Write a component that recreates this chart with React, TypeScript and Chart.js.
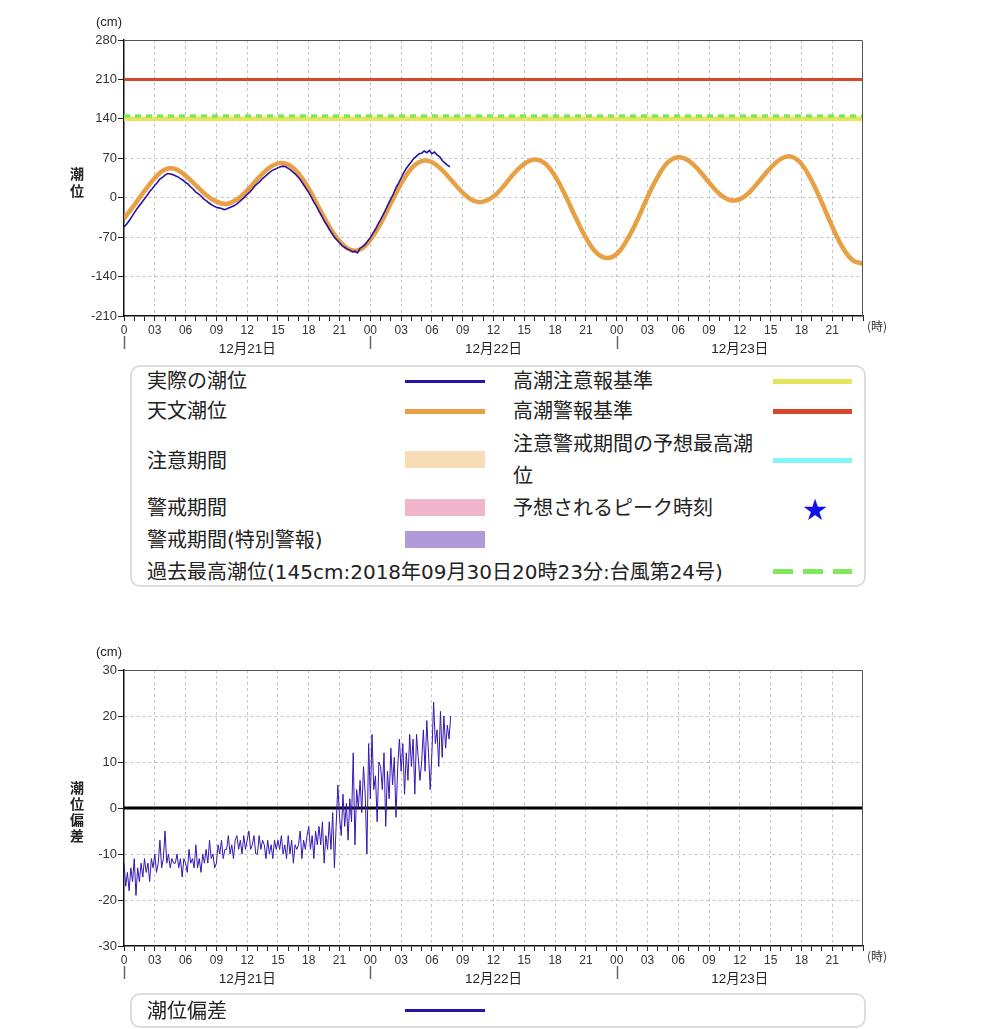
import React, { useEffect, useRef } from 'react';
import { Chart, registerables } from 'chart.js';

Chart.register(...registerables);

// ---------------- data ----------------
const dayLabels = ['12月21日', '12月22日', '12月23日'];
const totalHours = 72;

// astronomical tide, hourly from 12/21 00:00 (cm)
const astroTide = [
  -37, -13, 12, 35, 50, 51, 39, 22, 5, -7,
  -11, -3, 13, 33, 51, 61, 59, 43, 16, -18,
  -51, -77, -92, -92, -75, -46, -10, 25, 52, 65,
  63, 49, 29, 9, -5, -7, 2, 21, 43, 60,
  68, 61, 38, 4, -35, -71, -97, -107, -100, -75,
  -40, 1, 37, 63, 72, 66, 49, 27, 7, -4,
  -3, 11, 32, 53, 69, 73, 60, 30, -9, -51,
  -88, -111, -117,
];
const astroStepHours = 1;

// observed tide, every 15 min from 12/21 00:00 (cm)
const observedTide = [
  -52, -47, -41, -34, -27, -20, -14, -8, -2, 4, 11, 16, 22, 27, 33, 36,
  40, 43, 42, 41, 39, 37, 34, 31, 27, 24, 19, 15, 10, 7, 3, -2,
  -5, -9, -12, -15, -17, -18, -19, -21, -20, -18, -16, -14, -11, -7, -3, 1,
  6, 10, 15, 21, 25, 29, 34, 38, 42, 46, 49, 51, 53, 55, 56, 55,
  52, 49, 45, 41, 36, 30, 23, 16, 9, 1, -8, -15, -24, -32, -41, -48,
  -56, -63, -70, -75, -80, -85, -88, -91, -93, -96, -95, -98, -90, -87, -83, -77,
  -71, -63, -56, -47, -39, -30, -21, -11, -2, 7, 18, 26, 35, 44, 52, 58,
  64, 70, 74, 78, 79, 83, 80, 84, 78, 81, 76, 73, 66, 62, 58, 55,
];
const observedStepHours = 0.25;

// tide residual (observed - astronomical), every 10 min (cm)
const residual = [
  -12, -17, -14, -18, -13, -16, -11, -19, -13, -16, -12, -15,
  -11, -14, -12, -16, -11, -13, -10, -14, -12, -7, -13, -11,
  -5, -12, -10, -13, -11, -12, -12, -10, -13, -11, -15, -11,
  -12, -14, -9, -12, -11, -13, -8, -13, -11, -14, -10, -12,
  -9, -12, -7, -11, -10, -13, -12, -8, -10, -7, -11, -9,
  -9, -6, -10, -8, -11, -7, -6, -9, -7, -10, -6, -9,
  -7, -5, -9, -8, -6, -10, -10, -6, -9, -7, -8, -11,
  -7, -10, -8, -11, -7, -9, -7, -9, -6, -10, -8, -11,
  -6, -10, -7, -12, -8, -9, -8, -5, -11, -7, -9, -6,
  -4, -9, -6, -11, -5, -8, -4, -8, -3, -12, -6, -9,
  -3, -9, -1, -13, -4, 5, -2, -6, 3, -4, 1, -7,
  2, -3, 12, -8, 4, 0, 6, -1, 9, 3, -10, 14,
  2, 16, 4, 7, -3, 10, 9, 4, 12, -4, 8, 2,
  13, 5, 11, -2, 9, 15, 8, 14, 3, 12, 6, 16,
  9, 15, 3, 16, 11, 6, 10, 17, 8, 19, 12, 4,
  12, 23, 14, 17, 9, 21, 11, 20, 13, 18, 15, 20,
];
const residualStepHours = 1 / 6;

const warningLevel = 210; // 高潮警報基準
const advisoryLevel = 140; // 高潮注意報基準
const recordLevel = 145; // 過去最高潮位

const tideAxis = { min: -210, max: 280, step: 70 };
const residualAxis = { min: -30, max: 30, step: 10 };

// ---------------- styling ----------------
const FONT_NUM = '"Liberation Sans", Arial, sans-serif';
const FONT_JP = '"Noto Sans CJK JP", sans-serif';
const LEGEND_FONT = '"DejaVu Sans", "Noto Sans CJK JP", sans-serif';
const C_OBS = '#2a12a4';
const C_RES = '#3416b4';
const C_ASTRO = '#e8a044';
const C_WARN = '#d6472c';
const C_ADV = '#e6e65c';
const C_REC = '#80e85a';
const GRID = '#c6c6c6';

function hourLabel(v: number) {
  if (v === 0) return '0';
  const h = v % 24;
  return h < 10 ? '0' + h : String(h);
}

const extrasPlugin = {
  id: 'extras',
  afterDraw(chart: any, _args: any, opts: any) {
    const { ctx, chartArea: a } = chart;
    const xs = chart.scales.x;
    ctx.save();
    ctx.strokeStyle = '#555';
    ctx.lineWidth = 1;
    ctx.setLineDash([]);
    ctx.beginPath();
    ctx.moveTo(a.left, a.top + 0.5);
    ctx.lineTo(a.right - 0.5, a.top + 0.5);
    ctx.lineTo(a.right - 0.5, a.bottom);
    ctx.stroke();
    ctx.fillStyle = '#222';
    ctx.textAlign = 'center';
    ctx.textBaseline = 'middle';
    ctx.font = '13px ' + FONT_NUM;
    ctx.fillText('(cm)', 109, a.top - 18);
    ctx.font = 'bold 14px ' + FONT_JP;
    (opts.yTitle as string[]).forEach((ch, i) => {
      ctx.fillText(ch, 77, opts.yTitleY + i * opts.yTitleStep);
    });
    ctx.font = '12px ' + FONT_JP;
    ctx.fillStyle = '#333';
    ctx.fillText('(時)', a.right + 14, a.bottom + 10);
    ctx.font = '13.5px ' + FONT_NUM + ', ' + FONT_JP;
    ctx.fillStyle = '#222';
    dayLabels.forEach((d, i) => {
      const xc = xs.getPixelForValue(i * 24 + 12);
      ctx.fillText(d, xc, a.bottom + 33);
      const xl = Math.round(xs.getPixelForValue(i * 24)) + 0.5;
      ctx.strokeStyle = '#666';
      ctx.lineWidth = 1.5;
      ctx.beginPath();
      ctx.moveTo(xl, a.bottom + 20);
      ctx.lineTo(xl, a.bottom + 33);
      ctx.stroke();
    });
    ctx.restore();
  },
};

function makeScales(yMin: number, yMax: number, yStep: number, xHeight: number) {
  return {
    x: {
      type: 'linear',
      min: 0,
      max: totalHours,
      ticks: {
        stepSize: 1,
        autoSkip: false,
        maxRotation: 0,
        minRotation: 0,
        padding: 2,
        color: '#333',
        font: { family: FONT_NUM, size: 12 },
        callback: (v: number) => (v % 3 === 0 && v < totalHours ? hourLabel(v) : ''),
      },
      grid: {
        color: (c: any) => {
          const v = c.tick ? c.tick.value : -1;
          return v > 0 && v < totalHours && v % 3 === 0 ? GRID : 'rgba(0,0,0,0)';
        },
        tickColor: '#222',
        tickLength: 5,
        tickWidth: 1,
        lineWidth: 1,
      },
      border: { display: true, color: '#111', width: 1.5, dash: [3, 3] },
      afterFit: (s: any) => {
        s.height = xHeight;
      },
    },
    y: {
      type: 'linear',
      min: yMin,
      max: yMax,
      ticks: {
        stepSize: yStep,
        padding: 1,
        color: '#333',
        font: { family: FONT_NUM, size: 13 },
      },
      grid: {
        color: (c: any) => {
          const v = c.tick ? c.tick.value : yMin;
          return v > yMin && v < yMax ? GRID : 'rgba(0,0,0,0)';
        },
        tickColor: '#222',
        tickLength: 6,
        lineWidth: 1,
      },
      border: { display: true, color: '#111', width: 1.5, dash: [3, 3] },
      afterFit: (s: any) => {
        s.width = 124;
      },
    },
  };
}

const flat = (y: number) => [
  { x: 0, y },
  { x: totalHours, y },
];

// ---------------- legend helpers ----------------
const T = (x: number, y: number, s: string) => (
  <div
    style={{
      position: 'absolute',
      left: x,
      top: y,
      transform: 'translateY(-50%)',
      fontSize: 20,
      lineHeight: '24px',
      color: '#222',
      whiteSpace: 'nowrap',
      fontFamily: LEGEND_FONT,
    }}
  >
    {s}
  </div>
);
const L = (x1: number, x2: number, y: number, h: number, c: string) => (
  <div style={{ position: 'absolute', left: x1, top: y - h / 2, width: x2 - x1, height: h, background: c }} />
);
const R = (x1: number, x2: number, y1: number, y2: number, c: string) => (
  <div style={{ position: 'absolute', left: x1, top: y1, width: x2 - x1, height: y2 - y1, background: c }} />
);

export default function App() {
  const topRef = useRef<HTMLCanvasElement>(null);
  const botRef = useRef<HTMLCanvasElement>(null);

  useEffect(() => {
    const top = new Chart(topRef.current as HTMLCanvasElement, {
      type: 'line',
      data: {
        datasets: [
          {
            label: '実際の潮位',
            data: observedTide.map((y, i) => ({ x: i * observedStepHours, y })),
            borderColor: C_OBS,
            borderWidth: 1.6,
            pointRadius: 0,
            tension: 0,
          },
          {
            label: '天文潮位',
            data: astroTide.map((y, i) => ({ x: i * astroStepHours, y })),
            borderColor: C_ASTRO,
            borderWidth: 4.5,
            pointRadius: 0,
            tension: 0.4,
          },
          {
            label: '過去最高潮位',
            data: flat(recordLevel),
            borderColor: C_REC,
            borderWidth: 3.5,
            borderDash: [6, 5],
            pointRadius: 0,
          },
          {
            label: '高潮注意報基準',
            data: flat(advisoryLevel),
            borderColor: C_ADV,
            borderWidth: 4.5,
            pointRadius: 0,
          },
          {
            label: '高潮警報基準',
            data: flat(warningLevel),
            borderColor: C_WARN,
            borderWidth: 3,
            pointRadius: 0,
          },
        ],
      } as any,
      options: {
        responsive: false,
        animation: false,
        events: [],
        layout: { padding: { left: 0, top: 40, right: 137, bottom: 0 } },
        scales: makeScales(tideAxis.min, tideAxis.max, tideAxis.step, 44) as any,
        plugins: {
          legend: { display: false },
          tooltip: { enabled: false },
          extras: { yTitle: ['潮', '位'], yTitleY: 174, yTitleStep: 17 },
        } as any,
      },
      plugins: [extrasPlugin],
    });

    const bot = new Chart(botRef.current as HTMLCanvasElement, {
      type: 'line',
      data: {
        datasets: [
          {
            label: '潮位偏差',
            data: residual.map((y, i) => ({ x: i * residualStepHours, y })),
            borderColor: C_RES,
            borderWidth: 1,
            pointRadius: 0,
            tension: 0,
          },
          {
            label: 'zero',
            data: flat(0),
            borderColor: '#000',
            borderWidth: 3,
            pointRadius: 0,
          },
        ],
      } as any,
      options: {
        responsive: false,
        animation: false,
        events: [],
        layout: { padding: { left: 0, top: 30, right: 137, bottom: 0 } },
        scales: makeScales(residualAxis.min, residualAxis.max, residualAxis.step, 54) as any,
        plugins: {
          legend: { display: false },
          tooltip: { enabled: false },
          extras: { yTitle: ['潮', '位', '偏', '差'], yTitleY: 147.5, yTitleStep: 16 },
        } as any,
      },
      plugins: [extrasPlugin],
    });

    return () => {
      top.destroy();
      bot.destroy();
    };
  }, []);

  return (
    <div style={{ position: 'absolute', left: 0, top: 0, width: 1000, height: 1029, background: '#fff', overflow: 'hidden' }}>
      <canvas
        ref={topRef}
        width={1000}
        height={360}
        style={{ position: 'absolute', left: 0, top: 0, width: 1000, height: 360 }}
      />
      <div
        style={{
          position: 'absolute',
          left: 130,
          top: 365,
          width: 736,
          height: 222,
          boxSizing: 'border-box',
          border: '2px solid #dcdcdc',
          borderRadius: 10,
        }}
      />
      {T(147, 381, '実際の潮位')}
      {L(405, 485, 381, 3, C_OBS)}
      {T(147, 411, '天文潮位')}
      {L(405, 485, 411, 5, C_ASTRO)}
      {T(147, 461, '注意期間')}
      {R(405, 485, 451, 468, '#f8dcb6')}
      {T(147, 508, '警戒期間')}
      {R(405, 485, 499, 516, '#f2b6cc')}
      {T(147, 540, '警戒期間(特別警報)')}
      {R(405, 485, 531, 548, '#b09ad8')}
      {T(147, 572, '過去最高潮位(145cm:2018年09月30日20時23分:台風第24号)')}
      {L(773, 793, 571, 5, C_REC)}
      {L(803, 823, 571, 5, C_REC)}
      {L(833, 852, 571, 5, C_REC)}
      {T(513, 381, '高潮注意報基準')}
      {L(773, 852, 381, 5, C_ADV)}
      {T(513, 411, '高潮警報基準')}
      {L(773, 852, 411, 5, C_WARN)}
      {T(513, 444, '注意警戒期間の予想最高潮')}
      {T(513, 476, '位')}
      {L(773, 852, 460, 5, '#84f4f4')}
      {T(513, 508, '予想されるピーク時刻')}
      <div
        style={{
          position: 'absolute',
          left: 815,
          top: 508,
          transform: 'translate(-50%, -50%)',
          fontSize: 24,
          lineHeight: '24px',
          color: '#1010e8',
          fontFamily: FONT_JP,
        }}
      >
        ★
      </div>

      <canvas
        ref={botRef}
        width={1000}
        height={360}
        style={{ position: 'absolute', left: 0, top: 640, width: 1000, height: 360 }}
      />
      <div
        style={{
          position: 'absolute',
          left: 130,
          top: 993,
          width: 736,
          height: 35,
          boxSizing: 'border-box',
          border: '2px solid #dcdcdc',
          borderRadius: 10,
        }}
      />
      {T(147, 1011, '潮位偏差')}
      {L(405, 485, 1010, 3, C_OBS)}
    </div>
  );
}
